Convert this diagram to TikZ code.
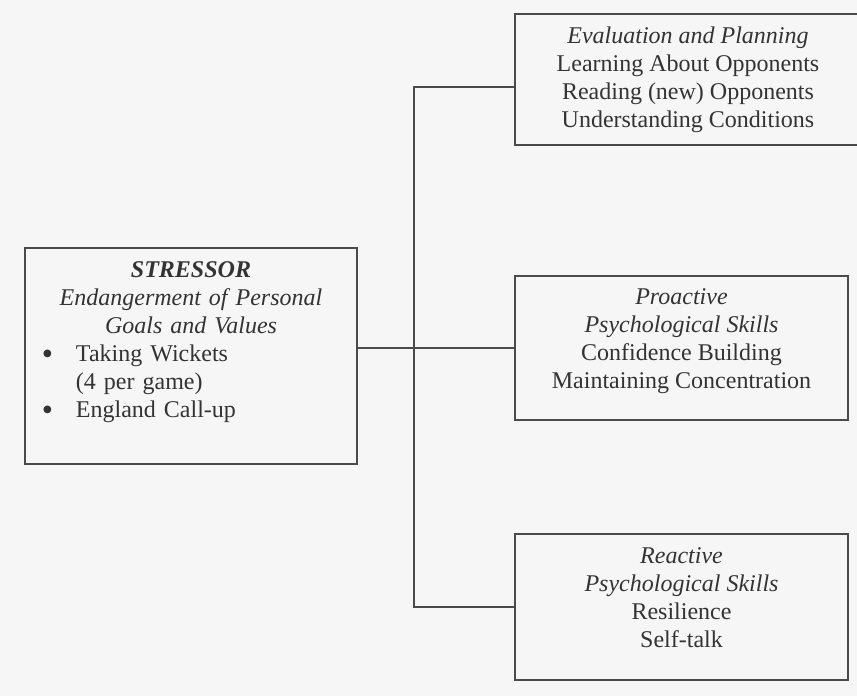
\documentclass[tikz,border=0pt]{standalone}
\usepackage{fontspec}
\setmainfont{Liberation Serif}
\usepackage{tikz}

\definecolor{inkgray}{HTML}{333333}
\definecolor{linegray}{HTML}{4A4A4A}
\definecolor{paper}{HTML}{F6F6F6}

\tikzset{
    skillbox/.style={draw=linegray, line width=1.6pt, inner sep=0pt, align=center,
        text=inkgray, font=\fontsize{24}{28}\selectfont},
    link/.style={draw=linegray, line width=1.6pt}
}

% bullet line of the stressor box
\newcommand{\stritem}[2]{\makebox[332pt][l]{\hspace{17pt}\makebox[34pt][l]{#1}#2}}
\newcommand{\bigdot}{{\fontsize{32}{28}\selectfont\raisebox{-3.5pt}{\textbullet}}}

\begin{document}
\begin{tikzpicture}[x=1pt, y=-1pt]
    % page
    \useasboundingbox (0,0) rectangle (857,696);
    \fill[paper] (0,0) rectangle (857,696);
    \clip (0,0) rectangle (857,696);

    % stressor
    \node[skillbox, text width=332pt, minimum width=332pt, minimum height=216pt] (stressor) at (191,356)
        {{\bfseries\itshape STRESSOR}\\
         {\itshape Endangerment of Personal}\\
         {\itshape Goals and Values}\\
         \stritem{\bigdot}{Taking Wickets}\\
         \stritem{}{(4 per game)}\\
         \stritem{\bigdot}{England Call-up\rule[-33pt]{0pt}{0pt}}};

    % coping boxes
    \node[skillbox, minimum width=346pt, minimum height=131pt] (evalplan) at (688,79.5)
        {{\itshape Evaluation and Planning}\\
         Learning About Opponents\\
         Reading (new) Opponents\\
         Understanding Conditions};
    \node[skillbox, minimum width=333pt, minimum height=144pt] (proactive) at (681.5,348)
        {{\itshape Proactive}\\
         {\itshape Psychological Skills}\\
         Confidence Building\\
         Maintaining Concentration\rule[-19pt]{0pt}{0pt}};
    \node[skillbox, minimum width=333pt, minimum height=146pt] (reactive) at (681.5,607)
        {{\itshape Reactive}\\
         {\itshape Psychological Skills}\\
         Resilience\\
         Self-talk\rule[-19pt]{0pt}{0pt}};

    % connectors
    \coordinate (hub) at (414,348);
    \draw[link] (stressor.east |- proactive.west) -- (proactive.west);
    \draw[link] ([yshift=-7.5pt]evalplan.west) -| (hub) |- (reactive.west);
\end{tikzpicture}
\end{document}
